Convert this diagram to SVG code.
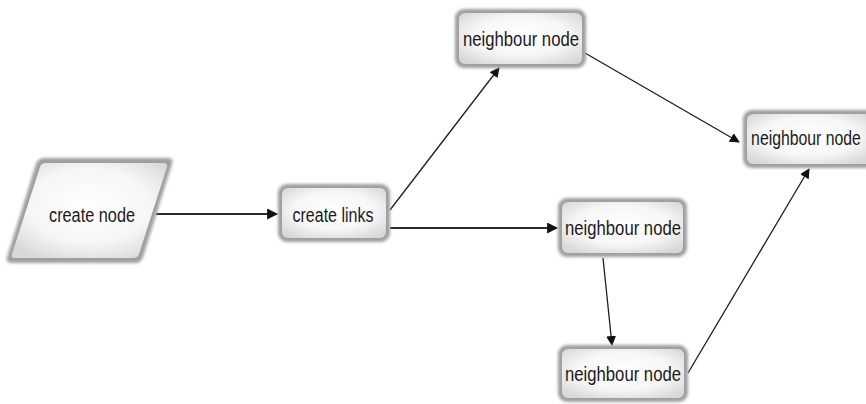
<svg xmlns="http://www.w3.org/2000/svg" width="866" height="404" viewBox="0 0 866 404">
  <defs>
    <filter id="soft" x="-20%" y="-20%" width="140%" height="140%">
      <feGaussianBlur stdDeviation="1.8"/>
    </filter>
    <radialGradient id="face" cx="50%" cy="45%" r="65%">
      <stop offset="0" stop-color="#ffffff"/>
      <stop offset="0.6" stop-color="#f6f6f6"/>
      <stop offset="1" stop-color="#d8d8d8"/>
    </radialGradient>
    <marker id="arrow" viewBox="0 0 10 10" refX="9" refY="5" markerWidth="10" markerHeight="10" markerUnits="userSpaceOnUse" orient="auto">
      <path d="M0,0 L10,5 L0,10 z" fill="#111"/>
    </marker>
    <marker id="arrowBig" viewBox="0 0 10 10" refX="9" refY="5" markerWidth="11" markerHeight="11" markerUnits="userSpaceOnUse" orient="auto">
      <path d="M0,0 L10,5 L0,10 z" fill="#111"/>
    </marker>
  </defs>
  <style>
    .rim { fill: #9f9f9f; filter: url(#soft); }
    .face { fill: url(#face); }
    .label { font-family: "Liberation Sans", Arial, sans-serif; font-size: 20px; fill: #1a1a1a; text-anchor: middle; }
    .link { fill: none; stroke: #1e1e1e; stroke-width: 1.3; }
    .link-bold { fill: none; stroke: #2a2a2a; stroke-width: 2; }
  </style>

  <rect width="866" height="404" fill="#ffffff"/>

  <!-- connectors -->
  <g id="connectors">
    <line class="link-bold" x1="156" y1="214" x2="277" y2="214" stroke="#555" stroke-width="2.4" marker-end="url(#arrowBig)"/>
    <line class="link" x1="390" y1="210" x2="499" y2="68" marker-end="url(#arrow)"/>
    <line class="link-bold" x1="390" y1="228" x2="557" y2="228" marker-end="url(#arrowBig)"/>
    <line class="link" x1="585" y1="53" x2="739" y2="142" marker-end="url(#arrow)"/>
    <line class="link" x1="603" y1="258" x2="612" y2="345" marker-end="url(#arrow)"/>
    <line class="link" x1="688" y1="373" x2="809" y2="169" marker-end="url(#arrow)"/>
  </g>

  <!-- start node (parallelogram) -->
  <g id="create-node">
    <path class="rim" d="M44,158 L168,158 Q174,158 172,164 L143,257 Q141,263 135,263 L12,263 Q5,263 7,257 L36,164 Q38,158 44,158 z"/>
    <path class="face" d="M46,163 L164,163 Q168,163 167,167 L139,254 Q138,258 133,258 L15,258 Q11,258 12,254 L40,167 Q41,163 46,163 z"/>
    <text class="label" x="92" y="222" textLength="86" lengthAdjust="spacingAndGlyphs">create node</text>
  </g>

  <g id="create-links">
    <rect class="rim" x="278" y="184" width="112" height="58" rx="9"/>
    <rect class="face" x="282" y="188" width="104" height="50" rx="6"/>
    <text class="label" x="333" y="222" textLength="81" lengthAdjust="spacingAndGlyphs">create links</text>
  </g>

  <g id="neighbour-top">
    <rect class="rim" x="455" y="9" width="131" height="59" rx="9"/>
    <rect class="face" x="459" y="13" width="123" height="51" rx="6"/>
    <text class="label" x="521" y="46" textLength="116" lengthAdjust="spacingAndGlyphs">neighbour node</text>
  </g>

  <g id="neighbour-right">
    <rect class="rim" x="743" y="110" width="132" height="58" rx="9"/>
    <rect class="face" x="747" y="114" width="124" height="50" rx="6"/>
    <text class="label" transform="translate(806,145) scale(0.79,1)">neighbour node</text>
  </g>

  <g id="neighbour-middle">
    <rect class="rim" x="558" y="198" width="129" height="59" rx="9"/>
    <rect class="face" x="562" y="202" width="121" height="51" rx="6"/>
    <text class="label" x="623" y="235" textLength="116" lengthAdjust="spacingAndGlyphs">neighbour node</text>
  </g>

  <g id="neighbour-bottom">
    <rect class="rim" x="558" y="345" width="130" height="57" rx="9"/>
    <rect class="face" x="562" y="349" width="122" height="49" rx="6"/>
    <text class="label" x="623" y="381" textLength="116" lengthAdjust="spacingAndGlyphs">neighbour node</text>
  </g>
</svg>
